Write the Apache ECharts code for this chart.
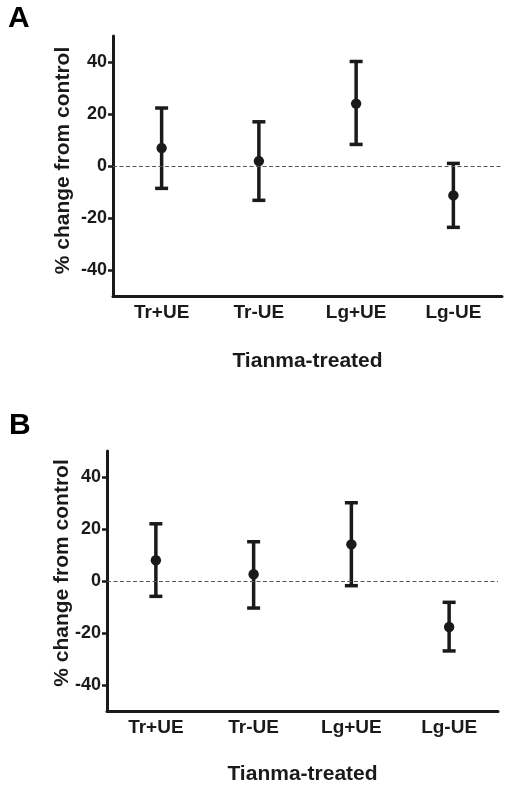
<!DOCTYPE html>
<html>
<head>
<meta charset="utf-8">
<script src="https://cdn.jsdelivr.net/npm/echarts@6/dist/echarts.min.js"></script>
<style>
html,body{margin:0;padding:0;background:#fff;}
#c{width:510px;height:786px;}
</style>
</head>
<body>
<div id="c"></div>
<script>
const categories = ['Tr+UE', 'Tr-UE', 'Lg+UE', 'Lg-UE'];
const yTicks = [-40, -20, 0, 20, 40];
const meanA = [6.9, 1.9, 24.0, -11.3];
const upperA = [22.3, 17.0, 40.2, 1.0];
const lowerA = [-8.6, -13.2, 8.3, -23.6];
const meanB = [8.0, 2.6, 14.1, -17.7];
const upperB = [22.0, 15.1, 30.1, -8.2];
const lowerB = [-5.9, -10.4, -1.8, -26.9];

const INK = '#1a1a1a';
const FONT = '"Liberation Sans", Arial, sans-serif';

function renderItem(params, api) {
  const x = api.value(0);
  const lo = api.coord([x, api.value(1)]);
  const hi = api.coord([x, api.value(2)]);
  const m = api.coord([x, api.value(3)]);
  const cw = 6.5;
  const st = { stroke: INK, lineWidth: 3.5 };
  return {
    type: 'group',
    children: [
      { type: 'line', shape: { x1: lo[0], y1: lo[1], x2: hi[0], y2: hi[1] }, style: st },
      { type: 'line', shape: { x1: hi[0] - cw, y1: hi[1], x2: hi[0] + cw, y2: hi[1] }, style: st },
      { type: 'line', shape: { x1: lo[0] - cw, y1: lo[1], x2: lo[0] + cw, y2: lo[1] }, style: st },
      { type: 'circle', shape: { cx: m[0], cy: m[1], r: 5.2 }, style: { fill: INK } }
    ]
  };
}

function xAxisDef(gi) {
  return {
    type: 'category', gridIndex: gi, data: categories,
    name: 'Tianma-treated', nameLocation: 'middle', nameGap: gi === 0 ? 55 : 53,
    nameMoveOverlap: false,
    nameTextStyle: { fontSize: 21, fontWeight: 'bold', color: INK, fontFamily: FONT },
    axisLine: { onZero: false, lineStyle: { color: INK, width: 3 } },
    axisTick: { alignWithLabel: true, length: 6, lineStyle: { color: INK, width: 2.5 } },
    axisLabel: { fontSize: 19, fontWeight: 'bold', color: INK, fontFamily: FONT, margin: 7 },
    splitLine: { show: false }
  };
}
function yAxisDef(gi) {
  return {
    type: 'value', gridIndex: gi, min: -50, max: 50,
    name: '% change from control', nameLocation: 'middle', nameGap: gi === 0 ? 39 : 34.5, nameRotate: 90,
    nameMoveOverlap: false,
    nameTextStyle: { fontSize: 21, fontWeight: 'bold', color: INK, fontFamily: FONT,
      padding: [0, 0, 0, gi === 0 ? 11 : 16] },
    axisLine: { show: true, onZero: false, lineStyle: { color: INK, width: 3 } },
    axisTick: { show: true, length: 5, customValues: yTicks, lineStyle: { color: INK, width: 2.5 } },
    axisLabel: { fontSize: 18, fontWeight: 'bold', color: INK, fontFamily: FONT, margin: 6, customValues: yTicks },
    splitLine: { show: false }
  };
}
function zeroLine(gi) {
  return {
    type: 'line', xAxisIndex: gi, yAxisIndex: gi, data: [], silent: true,
    markLine: {
      silent: true, symbol: ['none', 'none'], label: { show: false },
      lineStyle: { color: '#555', type: [4, 2.5], width: 1.2 },
      data: [{ yAxis: 0 }]
    }
  };
}

const chart = echarts.init(document.getElementById('c'), null, { renderer: 'canvas' });
chart.setOption({
  animation: false,
  backgroundColor: '#fff',
  graphic: [
    { type: 'text', left: 8, top: 4, style: { text: 'A', fontSize: 30, fontWeight: 'bold', fill: '#000', fontFamily: FONT } },
    { type: 'text', left: 9, top: 411, style: { text: 'B', fontSize: 30, fontWeight: 'bold', fill: '#000', fontFamily: FONT } }
  ],
  grid: [
    { left: 113, top: 36, width: 389, height: 260 },
    { left: 107, top: 451, width: 391, height: 261 }
  ],
  xAxis: [xAxisDef(0), xAxisDef(1)],
  yAxis: [yAxisDef(0), yAxisDef(1)],
  series: [
    zeroLine(0),
    zeroLine(1),
    {
      type: 'custom', xAxisIndex: 0, yAxisIndex: 0, renderItem: renderItem,
      encode: { x: 0, y: [1, 2, 3] },
      data: categories.map((c, i) => [i, lowerA[i], upperA[i], meanA[i]])
    },
    {
      type: 'custom', xAxisIndex: 1, yAxisIndex: 1, renderItem: renderItem,
      encode: { x: 0, y: [1, 2, 3] },
      data: categories.map((c, i) => [i, lowerB[i], upperB[i], meanB[i]])
    }
  ]
});
</script>
</body>
</html>
